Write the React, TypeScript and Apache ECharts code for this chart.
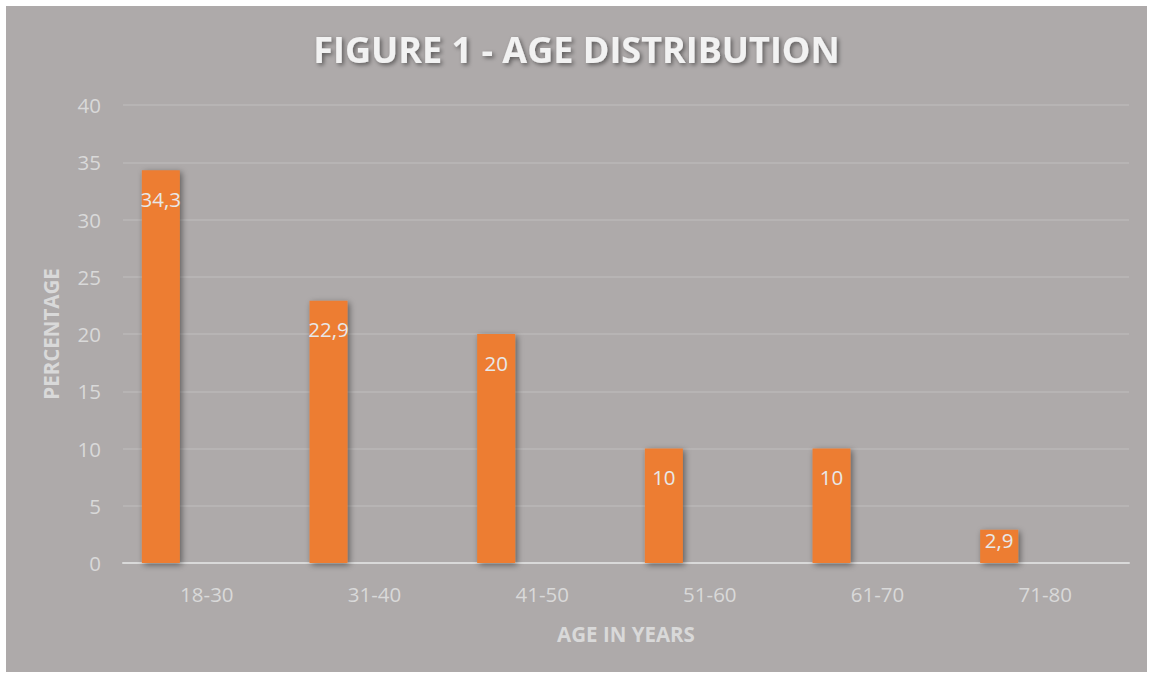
import React, { useEffect, useRef } from "react";
import * as echarts from "echarts";

const categories = ["18-30", "31-40", "41-50", "51-60", "61-70", "71-80"];
const percentages = [34.3, 22.9, 20, 10, 10, 2.9];
const emptySeries = [null, null, null, null, null, null];
const yTicks = { min: 0, max: 40, interval: 5 };

const FONT = "'Open Sans', 'Noto Sans', sans-serif";
const LIGHT = "#D9D9D9";

export default function App() {
  const ref = useRef<HTMLDivElement>(null);
  useEffect(() => {
    document.body.style.margin = "0";
    const chart = echarts.init(ref.current!, null, { renderer: "svg" });
    const barData = percentages.map((v) => ({
      value: v,
      label: v < 5 ? { position: "insideTop", distance: 0 } : undefined,
    }));
    chart.setOption({
      animation: false,
      backgroundColor: "#AEAAAA",
      title: {
        text: "FIGURE 1 - AGE DISTRIBUTION",
        left: "center",
        top: 20,
        textStyle: {
          fontFamily: FONT,
          fontWeight: "bold",
          fontSize: 36,
          color: "#F2F2F2",
          textShadowColor: "rgba(0,0,0,0.45)",
          textShadowBlur: 4,
          textShadowOffsetX: 2,
          textShadowOffsetY: 2,
        },
      },
      grid: { left: 117, right: 18, top: 99, bottom: 109, containLabel: false },
      xAxis: {
        type: "category",
        data: categories,
        name: "AGE IN YEARS",
        nameLocation: "middle",
        nameGap: 60,
        nameTextStyle: { fontFamily: FONT, fontWeight: "bold", fontSize: 20.5, color: LIGHT },
        axisLine: { lineStyle: { color: LIGHT, width: 2 } },
        axisTick: { show: false },
        axisLabel: { fontFamily: FONT, fontSize: 20.5, color: LIGHT, margin: 20 },
      },
      yAxis: {
        type: "value",
        min: yTicks.min,
        max: yTicks.max,
        interval: yTicks.interval,
        name: "PERCENTAGE",
        nameLocation: "middle",
        nameGap: 62,
        nameTextStyle: { fontFamily: FONT, fontWeight: "bold", fontSize: 20.5, color: LIGHT },
        axisLine: { show: false },
        axisTick: { show: false },
        axisLabel: { fontFamily: FONT, fontSize: 20.5, color: LIGHT, margin: 22 },
        splitLine: { lineStyle: { color: "rgba(255,255,255,0.16)", width: 1.5 } },
      },
      series: [
        {
          type: "bar",
          data: barData,
          barWidth: 38,
          barGap: "142%",
          itemStyle: {
            color: "#ED7D31",
            shadowColor: "rgba(0,0,0,0.45)",
            shadowBlur: 6,
            shadowOffsetX: 2,
            shadowOffsetY: 2,
          },
          label: {
            show: true,
            position: "insideTop",
            distance: 18,
            fontFamily: FONT,
            fontSize: 20.5,
            color: "#E8E8E8",
            formatter: (p: any) => String(p.value).replace(".", ","),
          },
        },
        {
          type: "bar",
          data: emptySeries,
          barWidth: 38,
          itemStyle: { color: "#A5A5A5" },
        },
      ],
    });
    return () => chart.dispose();
  }, []);
  return (
    <div style={{ position: "relative", width: 1149, height: 677, background: "#fff" }}>
      <div
        ref={ref}
        style={{ position: "absolute", left: 6, top: 6, width: 1141, height: 666 }}
      />
    </div>
  );
}
